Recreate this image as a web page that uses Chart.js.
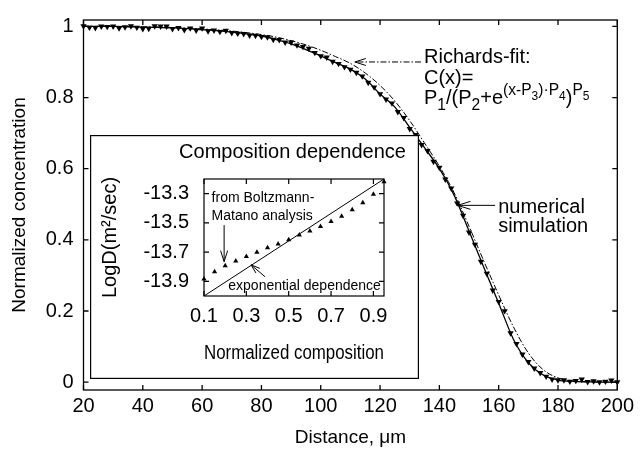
<!DOCTYPE html>
<html lang="en">
<head>
<meta charset="UTF-8">
<title>Concentration profile</title>
<script src="https://cdn.jsdelivr.net/npm/chart.js"></script>
<style>
  body { margin: 0; background: #fff; }
  #wrap { position: relative; width: 640px; height: 451px; }
  #inset { position: absolute; left: 90px; top: 135px; background: #fff; }
</style>
</head>
<body>
<div id="wrap">
  <canvas id="main" width="640" height="451"></canvas>
  <canvas id="inset" width="329" height="244"></canvas>
</div>
<script>
// --- main plot: concentration profile ---
const markDist = [20, 22, 24, 26, 28, 30, 32, 34, 36, 38, 40, 42, 44, 46, 48, 50, 52, 54, 56, 58,
  60, 62, 64, 66, 68, 70, 72, 74, 76, 78, 80, 82, 84, 86, 88, 90, 92, 94, 96, 98,
  100, 102, 104, 106, 108, 110, 112, 114, 116, 118, 120, 122, 124, 126, 128, 130, 132, 134, 136, 138,
  140, 142, 144, 146, 148, 150, 152, 154, 156, 158, 160, 162, 164, 166, 168, 170, 172, 174, 176, 178,
  180, 182, 184, 186, 188, 190, 192, 194, 196, 198, 200];
const markConc = [1.001, 0.997, 0.996, 1.000, 0.999, 1.000, 0.995, 0.998, 1.001, 0.997, 0.993, 0.994, 1.001, 1.000, 1.000, 0.993, 0.996, 0.990, 0.995, 0.989,
  0.995, 0.987, 0.989, 0.985, 0.988, 0.982, 0.980, 0.979, 0.975, 0.974, 0.971, 0.970, 0.963, 0.962, 0.955, 0.955, 0.947, 0.943, 0.938, 0.926,
  0.917, 0.913, 0.901, 0.895, 0.886, 0.879, 0.870, 0.860, 0.842, 0.829, 0.810, 0.795, 0.784, 0.760, 0.743, 0.712, 0.695, 0.667, 0.650, 0.620,
  0.603, 0.570, 0.545, 0.503, 0.468, 0.421, 0.387, 0.339, 0.305, 0.258, 0.226, 0.200, 0.138, 0.108, 0.078, 0.057, 0.039, 0.026, 0.016, 0.008,
  0.006, 0.006, 0.002, 0.004, 0.008, 0.001, 0.003, 0.000, 0.002, 0.005, 0.000];

const simDist = [20, 25, 30, 35, 40, 45, 50, 55, 60, 65, 70, 75, 80, 85, 90, 95, 100, 105, 110, 115,
  120, 125, 130, 135, 140, 145, 150, 155, 160, 165, 170, 175, 180, 185, 190, 195, 200];
const simConc = [1.000, 1.000, 1.000, 0.999, 0.998, 0.997, 0.996, 0.994, 0.991, 0.988, 0.984, 0.979, 0.973, 0.963, 0.951, 0.935, 0.917, 0.898, 0.880, 0.852,
  0.810, 0.773, 0.716, 0.659, 0.600, 0.525, 0.425, 0.322, 0.222, 0.120, 0.055, 0.020, 0.006, 0.002, 0.001, 0.000, 0.000];

const fitDist = [20, 30, 40, 50, 60, 70, 80, 85, 90, 95, 100, 105, 110, 115, 120, 125, 130, 135, 140, 145,
  150, 155, 160, 165, 170, 175, 180, 185, 190, 195, 200];
const fitConc = [1.000, 1.000, 0.999, 0.997, 0.993, 0.987, 0.977, 0.970, 0.960, 0.948, 0.933, 0.915, 0.896, 0.869, 0.834, 0.790, 0.735, 0.672, 0.607, 0.532,
  0.438, 0.340, 0.245, 0.155, 0.082, 0.035, 0.012, 0.004, 0.001, 0.000, 0.000];

const distTicks = [20, 40, 60, 80, 100, 120, 140, 160, 180, 200];
const concTicks = [0, 0.2, 0.4, 0.6, 0.8, 1];

// --- inset: composition dependence ---
const compX = [0.1, 0.15, 0.2, 0.25, 0.3, 0.35, 0.4, 0.45, 0.5, 0.55, 0.6, 0.65, 0.7, 0.75, 0.8, 0.85, 0.9, 0.95];
const logD = [-13.884, -13.835, -13.794, -13.76, -13.73, -13.70, -13.67, -13.644, -13.615, -13.583, -13.556, -13.524, -13.49, -13.454, -13.41, -13.363, -13.305, -13.218];
const expX = [0.1, 0.95];
const expLogD = [-14.0, -13.2];
const compTicks = [0.1, 0.3, 0.5, 0.7, 0.9];
const logDTicks = [-13.9, -13.7, -13.5, -13.3];

const FONT = '"Liberation Sans", Arial, Helvetica, sans-serif';
Chart.defaults.font.family = FONT;
Chart.defaults.color = '#000';

const pts = (xs, ys) => xs.map((v, i) => ({ x: v, y: ys[i] }));
const setTicks = list => scale => { scale.ticks = list.map(v => ({ value: v })); };

// box round the plot area with inward ticks on all four sides
const frame = {
  id: 'frame',
  afterDatasetsDraw(chart, args, opts) {
    const { ctx, chartArea: a, scales: { x, y } } = chart;
    const len = opts.len || 5;
    ctx.save();
    ctx.strokeStyle = '#000';
    ctx.lineWidth = opts.width || 1.2;
    ctx.strokeRect(a.left, a.top, a.right - a.left, a.bottom - a.top);
    ctx.beginPath();
    x.ticks.forEach(t => {
      const px = x.getPixelForValue(t.value);
      ctx.moveTo(px, a.bottom); ctx.lineTo(px, a.bottom - len);
      ctx.moveTo(px, a.top); ctx.lineTo(px, a.top + len);
    });
    y.ticks.forEach(t => {
      const py = y.getPixelForValue(t.value);
      ctx.moveTo(a.left, py); ctx.lineTo(a.left + len, py);
      ctx.moveTo(a.right, py); ctx.lineTo(a.right - len, py);
    });
    ctx.stroke();
    ctx.restore();
  }
};

function arrow(ctx, x1, y1, x2, y2, head, half, dash) {
  ctx.save();
  ctx.strokeStyle = '#000';
  ctx.lineWidth = 1;
  ctx.setLineDash(dash || []);
  ctx.beginPath();
  ctx.moveTo(x1, y1); ctx.lineTo(x2, y2);
  ctx.stroke();
  ctx.setLineDash([]);
  const ang = Math.atan2(y2 - y1, x2 - x1);
  const c = Math.cos(ang), s = Math.sin(ang);
  ctx.beginPath();
  ctx.moveTo(x2 - head * c - half * s, y2 - head * s + half * c);
  ctx.lineTo(x2, y2);
  ctx.lineTo(x2 - head * c + half * s, y2 - head * s - half * c);
  ctx.stroke();
  ctx.restore();
}

// draws text pieces: [text, level] where level is 0 normal, 1 sub, 2 sup, 3 sub inside sup
function richText(ctx, parts, x, y, size) {
  const fmt = {
    0: [size, 0], 1: [size * 0.78, size * 0.3], 2: [size * 0.78, -size * 0.45], 3: [size * 0.6, -size * 0.2]
  };
  parts.forEach(([txt, lvl]) => {
    const [sz, dy] = fmt[lvl];
    ctx.font = sz + 'px ' + FONT;
    ctx.fillText(txt, x, y + dy);
    x += ctx.measureText(txt).width;
  });
}

const mainNotes = {
  id: 'mainNotes',
  afterDatasetsDraw(chart) {
    const { ctx, scales: { x, y } } = chart;
    ctx.save();
    ctx.fillStyle = '#000';
    ctx.textBaseline = 'alphabetic';
    ctx.textAlign = 'left';

    // Richards-fit label
    const rx = x.getPixelForValue(111.5), ry = y.getPixelForValue(0.9);
    const rEnd = x.getPixelForValue(133.8);
    arrow(ctx, rEnd, ry, rx, ry, 11, 3.5, [6, 2, 1.5, 2]);
    ctx.font = '20px ' + FONT;
    ctx.fillText('Richards-fit:', rEnd + 3, ry + 1);
    ctx.fillText('C(x)=', rEnd + 3, ry + 22);
    richText(ctx, [['P', 0], ['1', 1], ['/(P', 0], ['2', 1], ['+e', 0], ['(x-P', 2], ['3', 3], [')\u00b7P', 2], ['4', 3], [')', 0], ['P', 2], ['5', 3]], rEnd + 3, ry + 42, 20);

    // numerical simulation label
    const nx = x.getPixelForValue(146.1), ny = y.getPixelForValue(0.497);
    const nEnd = x.getPixelForValue(158.8);
    arrow(ctx, nEnd, ny, nx, ny, 13, 4);
    ctx.font = '20px ' + FONT;
    ctx.fillText('numerical', nEnd + 3, ny + 7.5);
    ctx.fillText('simulation', nEnd + 3, ny + 26.5);
    ctx.restore();
  }
};

const insetNotes = {
  id: 'insetNotes',
  afterDatasetsDraw(chart) {
    const { ctx, chartArea: a, scales: { x, y }, width, height } = chart;
    ctx.save();
    ctx.strokeStyle = '#000';
    ctx.lineWidth = 1.2;
    ctx.strokeRect(0.6, 0.6, width - 1.2, height - 1.2);

    ctx.fillStyle = '#000';
    ctx.textAlign = 'center';
    ctx.textBaseline = 'middle';
    ctx.font = '20px ' + FONT;
    ctx.fillText('Composition dependence', (a.left + a.right) / 2 - 1.5, 17);

    ctx.textAlign = 'left';
    ctx.font = '14px ' + FONT;
    const bx = x.getPixelForValue(0.136);
    ctx.fillText('from Boltzmann-', bx, y.getPixelForValue(-13.33));
    ctx.fillText('Matano analysis', bx, y.getPixelForValue(-13.455));
    const ax = x.getPixelForValue(0.195);
    arrow(ctx, ax, y.getPixelForValue(-13.515), ax, y.getPixelForValue(-13.765), 11, 3.5);

    ctx.fillText('exponential dependence', x.getPixelForValue(0.2146), y.getPixelForValue(-13.931));
    arrow(ctx, x.getPixelForValue(0.388), y.getPixelForValue(-13.868),
      x.getPixelForValue(0.322), y.getPixelForValue(-13.787), 9, 3);
    ctx.restore();
  }
};

new Chart(document.getElementById('main'), {
  type: 'scatter',
  data: {
    datasets: [
      {
        label: 'Richards-fit',
        data: pts(fitDist, fitConc),
        showLine: true,
        borderColor: '#000',
        borderWidth: 1,
        borderDash: [6, 2, 1.5, 2],
        pointRadius: 0,
        cubicInterpolationMode: 'monotone'
      },
      {
        label: 'numerical simulation',
        data: pts(simDist, simConc),
        showLine: true,
        borderColor: '#000',
        borderWidth: 1.3,
        pointRadius: 0,
        cubicInterpolationMode: 'monotone'
      },
      {
        label: 'data',
        data: pts(markDist, markConc),
        showLine: false,
        pointStyle: 'triangle',
        rotation: 180,
        pointRadius: 3.6,
        backgroundColor: '#000',
        borderColor: '#000',
        borderWidth: 0,
        clip: false
      }
    ]
  },
  options: {
    responsive: false,
    animation: false,
    devicePixelRatio: 1,
    layout: { padding: { top: 11, right: 17, left: 0, bottom: 0 } },
    plugins: { legend: { display: false }, tooltip: { enabled: false }, frame: { len: 5, width: 1.3 } },
    scales: {
      x: {
        type: 'linear', min: 20, max: 200,
        afterBuildTicks: setTicks(distTicks),
        afterFit: s => { s.height = 61; },
        grid: { display: false, drawTicks: false },
        border: { display: false },
        ticks: { padding: 6, maxRotation: 0, font: { size: 20, lineHeight: 1 }, callback: v => String(v) },
        title: { display: true, text: 'Distance, \u03bcm', font: { size: 19 }, padding: { top: 0, bottom: 2 } }
      },
      y: {
        type: 'linear', min: -0.022, max: 1.018,
        afterBuildTicks: setTicks(concTicks),
        afterFit: s => { s.width = 83.5; },
        grid: { display: false, drawTicks: false },
        border: { display: false },
        ticks: { padding: 10, font: { size: 20, lineHeight: 1 }, callback: v => String(v) },
        title: { display: true, text: 'Normalized concentration', font: { size: 19 }, padding: { top: 8, bottom: 0 } }
      }
    }
  },
  plugins: [frame, mainNotes]
});

new Chart(document.getElementById('inset'), {
  type: 'scatter',
  data: {
    datasets: [
      {
        label: 'exponential dependence',
        data: pts(expX, expLogD),
        showLine: true,
        borderColor: '#000',
        borderWidth: 1,
        pointRadius: 0
      },
      {
        label: 'from Boltzmann-Matano analysis',
        data: pts(compX, logD),
        showLine: false,
        pointStyle: 'triangle',
        pointRadius: 3,
        backgroundColor: '#000',
        borderColor: '#000',
        borderWidth: 0,
        clip: false
      }
    ]
  },
  options: {
    responsive: false,
    animation: false,
    devicePixelRatio: 1,
    layout: { padding: { top: 44, right: 35, left: 0, bottom: 0 } },
    plugins: { legend: { display: false }, tooltip: { enabled: false }, frame: { len: 5, width: 1.2 } },
    scales: {
      x: {
        type: 'linear', min: 0.1, max: 0.95,
        afterBuildTicks: setTicks(compTicks),
        afterFit: s => { s.height = 83; },
        grid: { display: false, drawTicks: false },
        border: { display: false },
        ticks: { padding: 10, maxRotation: 0, font: { size: 20, lineHeight: 1 }, callback: v => String(v) },
        title: { display: true, text: 'Normalized composition', font: { size: 20 }, padding: { top: 0, bottom: 14 } }
      },
      y: {
        type: 'linear', min: -14.0, max: -13.2,
        afterBuildTicks: setTicks(logDTicks),
        afterFit: s => { s.width = 114; },
        grid: { display: false, drawTicks: false },
        border: { display: false },
        ticks: { padding: 15, font: { size: 20, lineHeight: 1 }, callback: v => String(v) },
        title: { display: true, text: 'LogD(m\u00b2/sec)', font: { size: 20 }, padding: { top: 8, bottom: 0 } }
      }
    }
  },
  plugins: [frame, insetNotes]
});
</script>
</body>
</html>
